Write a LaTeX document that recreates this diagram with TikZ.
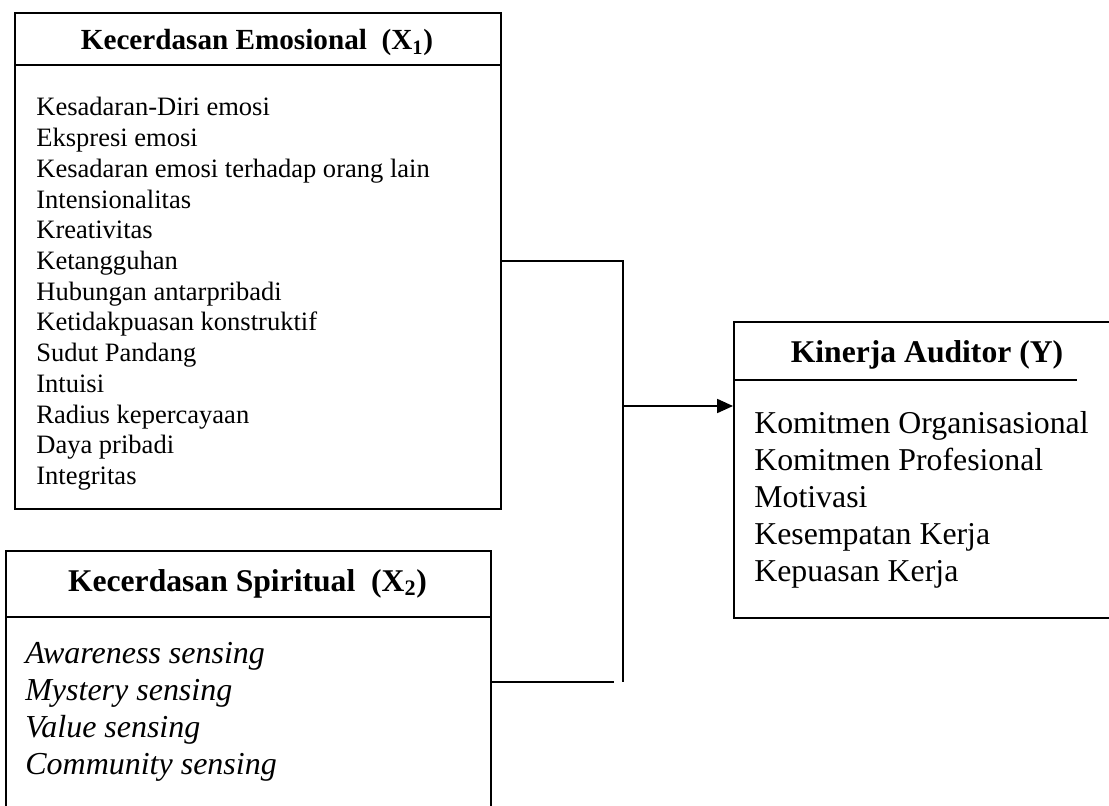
\documentclass[tikz,border=0pt]{standalone}
\usepackage{fontspec}
\setmainfont{Liberation Serif}
\usetikzlibrary{arrows.meta, positioning, calc}

\begin{document}
\begin{tikzpicture}[
    frame/.style={draw, line width=1pt, inner sep=0pt, anchor=north west},
    rule/.style={line width=1pt},
    wire/.style={line width=0.75pt},
    head/.style={font=\fontsize{16.6}{19}\selectfont\bfseries, inner sep=0pt, anchor=base},
    bighead/.style={font=\fontsize{18}{22}\selectfont\bfseries, inner sep=0pt, anchor=base},
    item/.style={font=\fontsize{15.1}{18}\selectfont, inner sep=0pt, anchor=base west},
    bigitem/.style={font=\fontsize{18.1}{22}\selectfont, inner sep=0pt, anchor=base west},
    sense/.style={bigitem, font=\fontsize{18.2}{22}\selectfont\itshape},
]
\useasboundingbox (0,0) rectangle (22.18,16.10);
\clip (0,0) rectangle (22.18,16.10);

% ---------------- emotional intelligence (X1)
\node[frame, minimum width=9.72cm, minimum height=9.92cm] (emo) at (0.28,15.86) {};
\draw[rule] (emo.west |- 0,14.80) -- (emo.east |- 0,14.80);
\node[head] (emohead) at (5.14,15.10) {Kecerdasan Emosional\ \ (X\textsubscript{1})};
\foreach \t [count=\i from 0] in {Kesadaran-Diri emosi, Ekspresi emosi,
    Kesadaran emosi terhadap orang lain, Intensionalitas, Kreativitas,
    Ketangguhan, Hubungan antarpribadi, Ketidakpuasan konstruktif,
    Sudut Pandang, Intuisi, Radius kepercayaan, Daya pribadi, Integritas}{
    \node[item] (emo\i) at (0.72, 13.78-\i*0.614) {\t};
}

% ---------------- spiritual intelligence (X2), runs off the page
\node[frame, minimum width=9.70cm, minimum height=5.24cm] (spi) at (0.10,5.10) {};
\draw[rule] (spi.west |- 0,3.76) -- (spi.east |- 0,3.76);
\node[bighead] (spihead) at (4.95,4.28) {Kecerdasan Spiritual\ \ (X\textsubscript{2})};
\foreach \t [count=\i from 0] in {Awareness sensing, Mystery sensing,
    Value sensing, Community sensing}{
    \node[sense] (spi\i) at (0.50, 2.84-\i*0.74) {\t};
}

% ---------------- auditor performance (Y)
\node[frame, minimum width=7.74cm, minimum height=5.92cm] (kin) at (14.66,9.68) {};
\draw[rule] (kin.west |- 0,8.50) -- (21.54,8.50);
\node[bighead] (kinhead) at (18.54,8.86) {Kinerja Auditor (Y)};
\foreach \t [count=\i from 0] in {Komitmen Organisasional, Komitmen Profesional,
    Motivasi, Kesempatan Kerja, Kepuasan Kerja}{
    \node[bigitem] (kin\i) at (15.08, 7.44-\i*0.74) {\t};
}

% ---------------- connectors
\coordinate (turn) at (12.46,2.46);
\coordinate (join) at (12.46,7.98);
\coordinate (stub) at (12.28,2.48);
\draw[wire] (emo.east) -| (turn);
\draw[wire] (spi.east) -- (spi.east -| stub);
\draw[wire, -{Triangle[length=9pt, width=8pt]}] (join) -- (join -| kin.west);
\end{tikzpicture}
\end{document}
